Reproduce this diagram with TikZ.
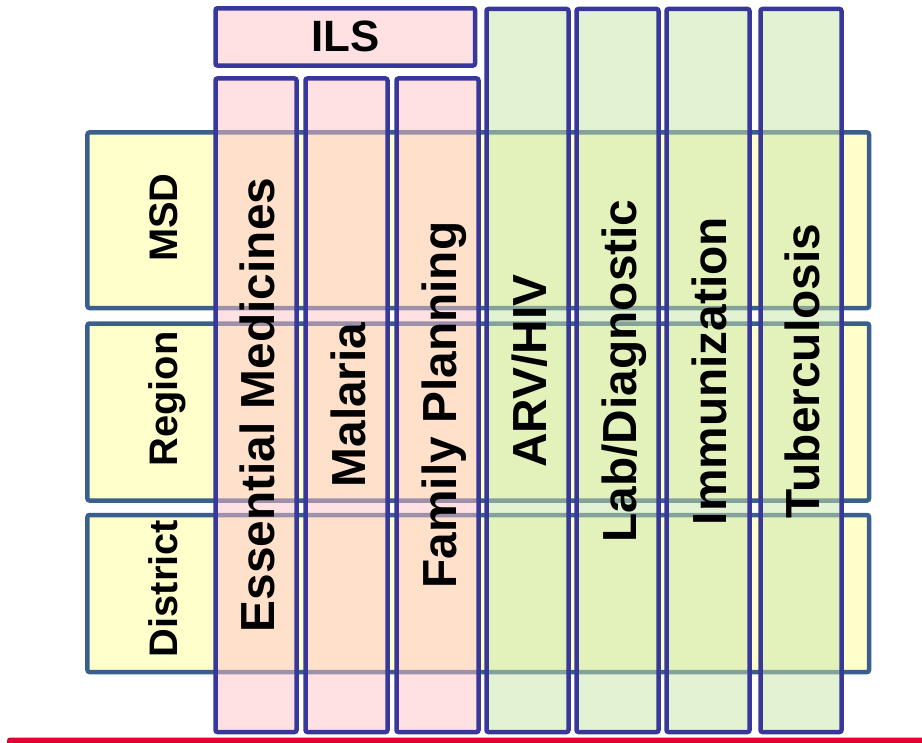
\documentclass[tikz,border=0pt]{standalone}
\usepackage{fontspec}
\setmainfont{Liberation Sans}
\definecolor{rowfill}{RGB}{255,255,204}
\definecolor{rowline}{RGB}{59,95,140}
\definecolor{colline}{RGB}{56,56,154}
\definecolor{pinkbase}{RGB}{255,195,201}
\definecolor{greenbase}{RGB}{201,229,169}
\definecolor{redbar}{RGB}{226,0,50}
\tikzset{
  rowbox/.style={draw=rowline, fill=rowfill, line width=4.5bp, rounded corners=2bp,
    minimum width=781.5bp, inner sep=0pt},
  colbox/.style={draw=colline, fill opacity=0.5, line width=4.5bp, rounded corners=2bp,
    inner sep=0pt},
  ilscol/.style={colbox, fill=pinkbase, minimum height=653.5bp},
  progcol/.style={colbox, fill=greenbase, minimum height=723bp},
  rowlabel/.style={rotate=90, anchor=base, inner sep=0pt,
    font=\fontsize{40}{44}\selectfont\bfseries},
  collabel/.style={rotate=90, anchor=base, inner sep=0pt,
    font=\fontsize{48}{52}\selectfont\bfseries},
}
\begin{document}
\begin{tikzpicture}[x=1bp, y=-1bp]
\useasboundingbox (0,0) rectangle (922,743);

% supply-chain levels
\node[rowbox, minimum height=175.5bp] (msd) at (478.25,220.25) {};
\node[rowbox, minimum height=177bp]   (region) at (478.25,412) {};
\node[rowbox, minimum height=157bp]   (district) at (478.25,593.5) {};

% ILS header
\node[colbox, fill=pinkbase, minimum width=259.5bp, minimum height=57.2bp] (ils) at (345.25,36.9) {};
\node[inner sep=0pt, font=\fontsize{44}{48}\selectfont\bfseries] (ilslabel) at (ils) {ILS};

% program columns
\node[ilscol, minimum width=81bp] (em) at (256,405.25) {};
\node[ilscol, minimum width=82bp] (mal) at (346.5,405.25) {};
\node[ilscol, minimum width=82bp] (fp) at (437.5,405.25) {};
\node[progcol, minimum width=82bp] (arv) at (527.5,370.5) {};
\node[progcol, minimum width=82bp] (lab) at (617.5,370.5) {};
\node[progcol, minimum width=83bp] (imm) at (708,370.5) {};
\node[progcol, minimum width=81bp] (tb) at (801,370.5) {};

% level labels
\node[rowlabel] (msdlabel) at (177,217.5) {MSD};
\node[rowlabel] (regionlabel) at (177,399) {Region};
\node[rowlabel] (districtlabel) at (177,588.5) {District};

% program labels
\node[collabel] (emlabel) at (274.5,405) {Essential Medicines};
\node[collabel] (mallabel) at (365,405) {Malaria};
\node[collabel] (fplabel) at (456,405) {Family Planning};
\node[collabel] (arvlabel) at (546,371) {ARV/HIV};
\node[collabel] (lablabel) at (636,371) {Lab/Diagnostic};
\node[collabel] (immlabel) at (726.5,371) {Immunization};
\node[collabel] (tblabel) at (819.5,371) {Tuberculosis};

% bottom rule
\fill[redbar, rounded corners=3bp] (7,737.5) rectangle (930,750);
\end{tikzpicture}
\end{document}
